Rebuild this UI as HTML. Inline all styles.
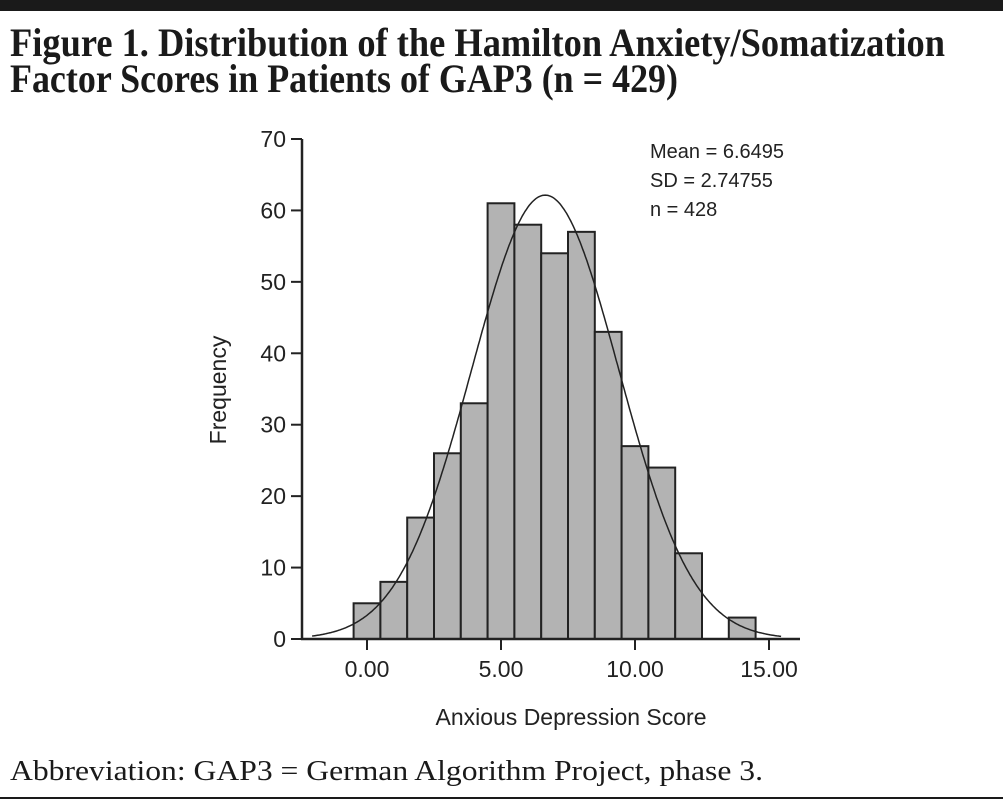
<!DOCTYPE html>
<html><head><meta charset="utf-8"><style>
html,body{margin:0;padding:0;background:#fff;}
svg{display:block;}
</style></head><body>
<svg id="chart" width="1003" height="805" xmlns="http://www.w3.org/2000/svg">
<rect x="0" y="0" width="1003" height="11" fill="#1a1a1a"/>
<text x="10" y="56" font-family="Liberation Serif, serif" font-size="40" font-weight="bold" textLength="935" lengthAdjust="spacingAndGlyphs" fill="#1a1a1a">Figure 1. Distribution of the Hamilton Anxiety/Somatization</text>
<text x="10" y="92" font-family="Liberation Serif, serif" font-size="40" font-weight="bold" textLength="668" lengthAdjust="spacingAndGlyphs" fill="#1a1a1a">Factor Scores in Patients of GAP3 (n = 429)</text>
<g id="plot"></g>
<text x="10" y="780" font-family="Liberation Serif, serif" font-size="28" textLength="753" lengthAdjust="spacingAndGlyphs" fill="#1a1a1a">Abbreviation: GAP3 = German Algorithm Project, phase 3.</text>
<rect x="0" y="797" width="1003" height="2" fill="#1a1a1a"/>
</svg>
<script>
const binCenters=[0,1,2,3,4,5,6,7,8,9,10,11,12,13,14];
const frequencies=[5,8,17,26,33,61,58,54,57,43,27,24,12,0,3];
const xTicks=[0,5,10,15];
const xTickLabels=["0.00","5.00","10.00","15.00"];
const yTicks=[0,10,20,30,40,50,60,70];
const meanVal=6.6495, sdVal=2.74755, nVal=428;
const statLabels=["Mean = 6.6495","SD = 2.74755","n = 428"];

const NS="http://www.w3.org/2000/svg";
const g=document.getElementById('plot');
const X=v=>367+v*26.8;
const Y=v=>639-v*7.143;
function mk(t,a){const e=document.createElementNS(NS,t);for(const k in a)e.setAttribute(k,a[k]);g.appendChild(e);return e;}
const font="Liberation Sans, sans-serif";
binCenters.forEach((c,i)=>{
  if(frequencies[i]<=0)return;
  const r=mk('rect',{x:X(c-0.5),y:Y(frequencies[i]),width:X(c+0.5)-X(c-0.5),height:Y(0)-Y(frequencies[i]),fill:'#b3b3b3',stroke:'#222','stroke-width':2});
  
  
});
let d='';
for(let v=-2.05;v<=15.5;v+=0.05){
  const f=nVal/(sdVal*Math.sqrt(2*Math.PI))*Math.exp(-0.5*((v-meanVal)/sdVal)**2);
  d+=(d?'L':'M')+X(v).toFixed(1)+','+Y(f).toFixed(1);
}
const cv=mk('path',{d:d,fill:'none',stroke:'#222','stroke-width':1.5});


const ya=mk('line',{x1:302,y1:Y(70),x2:302,y2:Y(0),stroke:'#222','stroke-width':2.5});


const xa=mk('line',{x1:301,y1:Y(0),x2:800,y2:Y(0),stroke:'#222','stroke-width':2.5});


yTicks.forEach(t=>{
  const l=mk('line',{x1:291,y1:Y(t),x2:302,y2:Y(t),stroke:'#222','stroke-width':2});
  
  
  const tx=mk('text',{x:286,y:Y(t)+8,'text-anchor':'end','font-family':font,'font-size':23,fill:'#222'});
  tx.textContent=t;
  
  
});
xTicks.forEach((t,i)=>{
  const l=mk('line',{x1:X(t),y1:Y(0),x2:X(t),y2:Y(0)+11,stroke:'#222','stroke-width':2});
  
  
  const tx=mk('text',{x:X(t),y:677,'text-anchor':'middle','font-family':font,'font-size':23,fill:'#222'});
  tx.textContent=xTickLabels[i];
  
  
});
const yl=mk('text',{x:0,y:0,transform:'translate(226,390) rotate(-90)','text-anchor':'middle','font-family':font,'font-size':23,fill:'#222'});
yl.textContent='Frequency';


const xl=mk('text',{x:571,y:725,'text-anchor':'middle','font-family':font,'font-size':23,fill:'#222'});
xl.textContent='Anxious Depression Score';


statLabels.forEach((s,i)=>{
  const t=mk('text',{x:650,y:158+i*29,'font-family':font,'font-size':20,fill:'#222'});
  t.textContent=s;
  
  
});
</script>
</body></html>
